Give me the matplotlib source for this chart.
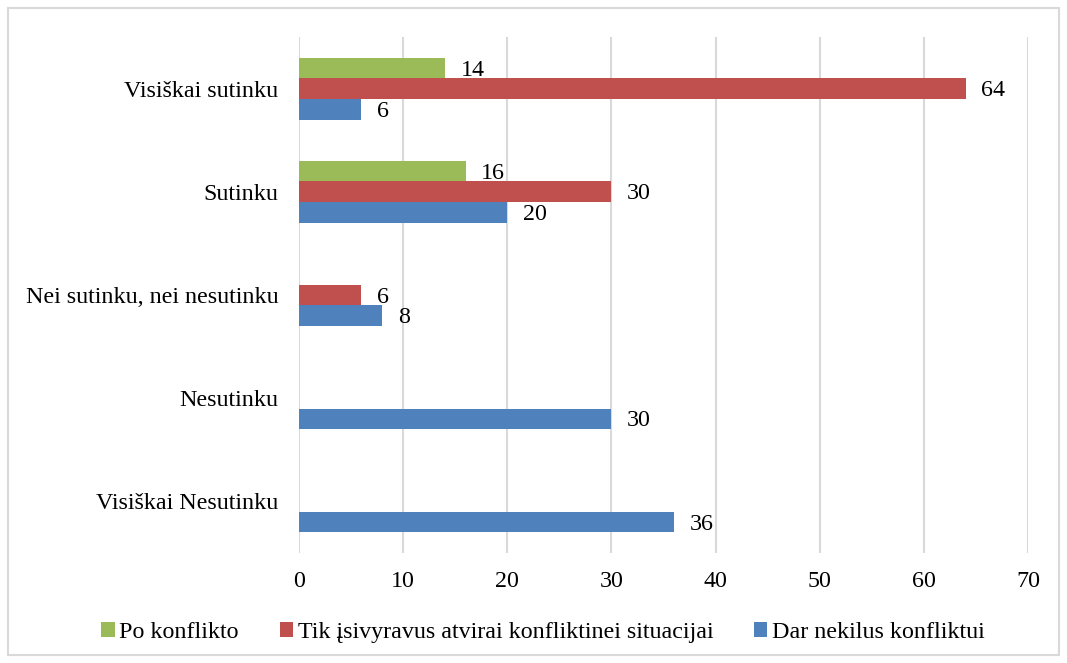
import numpy as np
import matplotlib.pyplot as plt
from matplotlib.patches import Rectangle

categories = ['Visiškai sutinku', 'Sutinku', 'Nei sutinku, nei nesutinku',
              'Nesutinku', 'Visiškai Nesutinku']
po_konflikto = [14, 16, 0, 0, 0]
tik_isivyravus = [64, 30, 6, 0, 0]
dar_nekilus = [6, 20, 8, 30, 36]

series = [('Po konflikto', po_konflikto, '#9BBB59', -0.2),
          ('Tik įsivyravus atvirai konfliktinei situacijai', tik_isivyravus, '#C0504D', 0.0),
          ('Dar nekilus konfliktui', dar_nekilus, '#4F81BD', 0.2)]

plt.rcParams['font.family'] = ['Liberation Serif', 'DejaVu Serif']
plt.rcParams['font.size'] = 17.3

fig = plt.figure(figsize=(10.67, 6.63), dpi=100)
ax = fig.add_axes([0.2802, 0.1659, 0.9635 - 0.2802, 0.9442 - 0.1659])

y = np.arange(len(categories))
for name, vals, col, off in series:
    bars = ax.barh(y + off, vals, height=0.2, color=col, linewidth=0,
                   label=name, zorder=3)
    for b, v in zip(bars, vals):
        if v > 0:
            ax.text(v + 1.5, b.get_y() + b.get_height() / 2 + 0.02, str(v),
                    va='center', ha='left', zorder=4)

ax.set_xlim(0, 70)
ax.set_ylim(4.5, -0.5)
ax.set_xticks(range(0, 71, 10))
ax.set_yticks(y)
ax.set_yticklabels(categories)
ax.xaxis.grid(True, color='#D9D9D9', linewidth=1.5, zorder=0)
for s in ax.spines.values():
    s.set_visible(False)
ax.tick_params(axis='both', length=0)
ax.tick_params(axis='x', pad=13)
ax.tick_params(axis='y', pad=15)

handles, labels = ax.get_legend_handles_labels()
fig.legend(handles, labels, loc='center', bbox_to_anchor=(0.509, 0.046), ncol=3,
           frameon=False, handlelength=0.55, handleheight=0.55, handletextpad=0.2,
           columnspacing=1.7)

fig.patches.append(Rectangle((8 / 1067, 8 / 663), 1 - 16 / 1067, 1 - 16 / 663,
                             transform=fig.transFigure, fill=False,
                             edgecolor='#D9D9D9', linewidth=1.5))

fig.savefig('out.png', dpi=100)
